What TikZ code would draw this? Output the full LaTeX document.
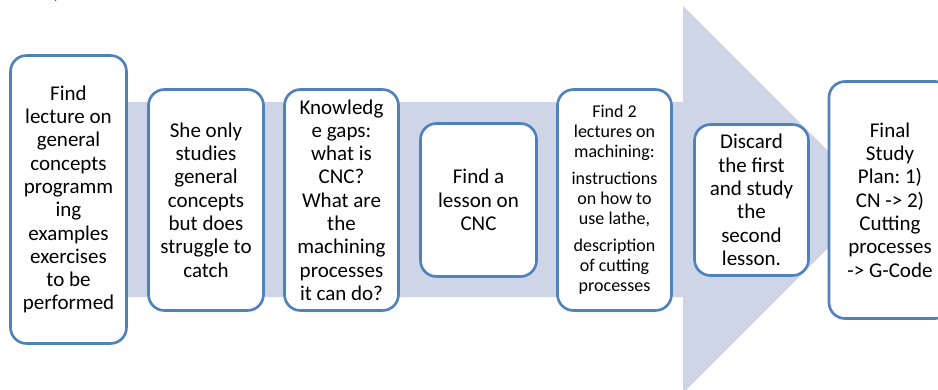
\documentclass[tikz,border=0pt]{standalone}
\usepackage{fontspec}
\setmainfont{Carlito}
\frenchspacing
\definecolor{arrowfill}{RGB}{205,213,230}
\definecolor{boxblue}{RGB}{79,129,189}
\begin{document}
\begin{tikzpicture}[x=1pt,y=1pt,
  stepbox/.style={draw=boxblue, line width=2.6pt, fill=white, rounded corners=16pt,
    align=center, inner sep=0pt, font=\fontsize{21}{23.3}\selectfont},
  smalltext/.style={font=\fontsize{18}{20}\selectfont},
]
\useasboundingbox (0,0) rectangle (938,389);
\fill[arrowfill] (60,287) -- (683,287) -- (683,383) -- (876.5,189.5) -- (683,-4) -- (683,92) -- (60,92) -- cycle;
\node[font=\fontsize{21}{23.3}\selectfont, anchor=base] (frag) at (57,390) {)};
\node[stepbox, minimum width=116, minimum height=288] (b1) at (68.5,189.5)
  {Find\\lecture on\\general\\concepts\\programm\\ing\\examples\\exercises\\to be\\performed};
\node[stepbox, minimum width=115, minimum height=221] (b2) at (206,189)
  {She only\\studies\\general\\concepts\\but does\\struggle to\\catch};
\node[stepbox, minimum width=114, minimum height=221] (b3) at (341.5,189)
  {Knowledg\\e gaps:\\what is\\CNC?\\What are\\the\\machining\\processes\\it can do?};
\node[stepbox, minimum width=116, minimum height=153] (b4) at (478.5,189)
  {Find a\\lesson on\\CNC};
\node[stepbox, smalltext, minimum width=114, minimum height=221] (b5) at (614.5,189)
  {Find 2\\lectures on\\machining:\\[7pt]instructions\\on how to\\use lathe,\\[7pt]description\\of cutting\\processes};
\node[stepbox, minimum width=114, minimum height=151] (b6) at (751.5,189)
  {Discard\\the first\\and study\\the\\second\\lesson.};
\node[stepbox, minimum width=122, minimum height=237] (b7) at (890,189)
  {Final\\Study\\Plan: 1)\\CN -> 2)\\Cutting\\processes\\-> G-Code};
\end{tikzpicture}
\end{document}
